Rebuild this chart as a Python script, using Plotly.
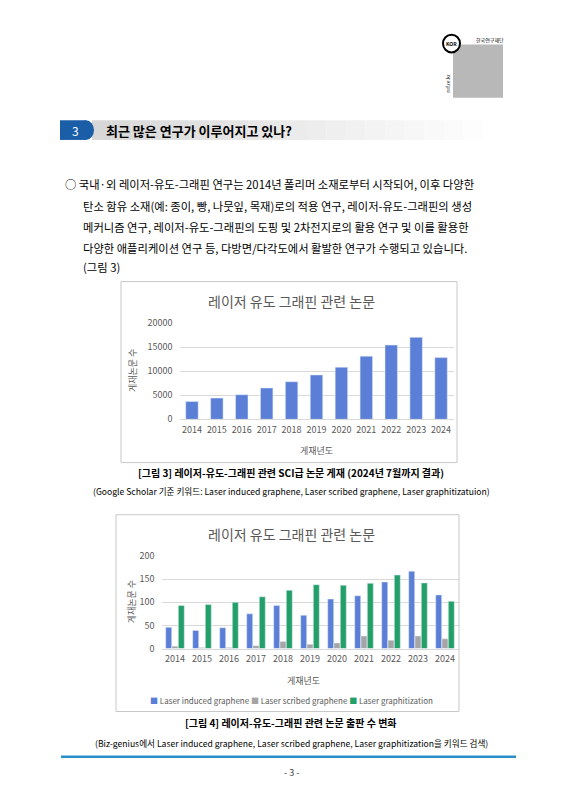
import plotly.graph_objects as go

W, H = 566, 800
years = [str(y) for y in range(2014, 2025)]
sci_papers = [3700, 4400, 5100, 6500, 7800, 9200, 10800, 13100, 15400, 17000, 12800]
lig = [46, 39, 45, 75, 93, 72, 107, 114, 144, 167, 116]
lsg = [5, 2, 2, 6, 15, 9, 12, 27, 18, 27, 21]
lgz = [93, 95, 100, 112, 126, 138, 137, 141, 159, 142, 102]
y1_ticks = [0, 5000, 10000, 15000, 20000]
y2_ticks = [0, 50, 100, 150, 200]
series_names = ["Laser induced graphene", "Laser scribed graphene", "Laser graphitization"]
series_colors = ["#5b7fd6", "#a5a5a5", "#23a06a"]

FONT = "Noto Sans CJK KR"
GRAY = "#595959"

def px(x): return x / W
def py(y): return 1 - y / H

fig = go.Figure()
fig.add_trace(go.Bar(x=years, y=sci_papers, marker_color=series_colors[0], width=0.5,
                     showlegend=False, xaxis="x", yaxis="y"))
for vals, nm, c in zip([lig, lsg, lgz], series_names, series_colors):
    fig.add_trace(go.Bar(x=years, y=vals, name=nm, marker_color=c, showlegend=False,
                         xaxis="x2", yaxis="y2"))

ax_common = dict(type="category", showgrid=False, showline=True, linecolor="#d9d9d9",
                 ticks="", ticklabelstandoff=2,
                 tickfont=dict(family=FONT, size=9, color=GRAY), fixedrange=True)
ay_common = dict(showgrid=True, gridcolor="#d9d9d9", zeroline=False, showline=False,
                 ticklabelstandoff=6,
                 tickfont=dict(family=FONT, size=9, color=GRAY), ticks="")
fig.update_layout(
    width=W, height=H, margin=dict(l=0, r=0, t=0, b=0),
    paper_bgcolor="white", plot_bgcolor="white", barmode="group",
    bargap=0.3, bargroupgap=0.05,
    font=dict(family=FONT),
    xaxis=dict(domain=[px(171.5), px(445.5)], anchor="y", **ax_common),
    yaxis=dict(domain=[py(411), py(313)], anchor="x", range=[0, 20000],
               tickvals=y1_ticks, ticktext=[str(v) for v in y1_ticks], **ay_common),
    xaxis2=dict(domain=[px(153.5), px(450.5)], anchor="y2", **ax_common),
    yaxis2=dict(domain=[py(644), py(550)], anchor="x2", range=[0, 200],
                tickvals=y2_ticks, ticktext=[str(v) for v in y2_ticks], **ay_common),
)

shapes = []
ann = []
def text(x, y, s, size=11, color="black", anchor="left", bold=False, angle=0):
    ann.append(dict(xref="paper", yref="paper", x=px(x), y=py(y), text=f"<b>{s}</b>" if bold else s,
                    showarrow=False, xanchor=anchor, yanchor="middle", textangle=angle,
                    font=dict(family=FONT, size=size, color=color)))

shapes.append(dict(type="rect", xref="paper", yref="paper", x0=px(113), x1=px(449), y0=py(455), y1=py(271),
                   line=dict(color="#c8c8c8", width=1)))
shapes.append(dict(type="rect", xref="paper", yref="paper", x0=px(108), x1=px(451), y0=py(708), y1=py(508),
                   line=dict(color="#c8c8c8", width=1)))
n = 20
for i in range(n):
    x0 = 84 + i * (475 - 84) / n
    x1 = 84 + (i + 1) * (475 - 84) / n
    g = int(215 + 40 * i / n)
    shapes.append(dict(type="rect", xref="paper", yref="paper", x0=px(x0), x1=px(x1), y0=py(127), y1=py(107),
                       line=dict(width=0), fillcolor=f"rgb({g},{g},{g})"))
shapes.append(dict(type="rect", xref="paper", yref="paper", x0=px(52), x1=px(78), y0=py(127), y1=py(107),
                   line=dict(width=0), fillcolor="#1a5ea8"))
shapes.append(dict(type="circle", xref="paper", yref="paper", x0=px(70), x1=px(86), y0=py(127), y1=py(107),
                   line=dict(width=0), fillcolor="#1a5ea8"))
shapes.append(dict(type="rect", xref="paper", yref="paper", x0=px(445), x1=px(495), y0=py(84), y1=py(30),
                   line=dict(width=0), fillcolor="#b8b8b8"))
shapes.append(dict(type="circle", xref="paper", yref="paper", x0=px(435), x1=px(452), y0=py(38), y1=py(20),
                   line=dict(color="black", width=2), fillcolor="white"))
shapes.append(dict(type="line", xref="paper", yref="paper", x0=px(53), x1=px(508), y0=py(754), y1=py(754),
                   line=dict(color="#2a8fc8", width=2.5)))

text(466, 25, "한국연구재단", size=5)
text(443.5, 29, "KOR", size=5, anchor="center", bold=True)
text(440, 70, "nrf.re.kr", size=5, anchor="center", angle=-90)
text(67, 117, "3", size=12, color="white", anchor="center")
text(96, 117, "최근 많은 연구가 이루어지고 있나?", size=13, bold=True)

body = ["○ 국내·외 레이저-유도-그래핀 연구는 2014년 폴리머 소재로부터 시작되어, 이후 다양한",
        "탄소 함유 소재(예: 종이, 빵, 나뭇잎, 목재)로의 적용 연구, 레이저-유도-그래핀의 생성",
        "메커니즘 연구, 레이저-유도-그래핀의 도핑 및 2차전지로의 활용 연구 및 이를 활용한",
        "다양한 애플리케이션 연구 등, 다방면/다각도에서 활발한 연구가 수행되고 있습니다.",
        "(그림 3)"]
ys = [172, 194, 216, 237, 256]
for i, (s, y) in enumerate(zip(body, ys)):
    text(55 if i == 0 else 73, y, s, size=11.3)

text(283, 291, "레이저 유도 그래핀 관련 논문", size=14, color=GRAY, anchor="center")
text(283, 528, "레이저 유도 그래핀 관련 논문", size=14, color=GRAY, anchor="center")
text(124, 362, "게재논문 수", size=9, color=GRAY, anchor="center", angle=-90)
text(123, 597, "게재논문 수", size=9, color=GRAY, anchor="center", angle=-90)
text(308, 443, "게재년도", size=9, color=GRAY, anchor="center")
text(295, 676, "게재년도", size=9, color=GRAY, anchor="center")

legend_txt = "".join(f"<span style='color:{c}'>■</span> {nm} " for nm, c in zip(series_names, series_colors))
text(283, 697, legend_txt.strip(), size=8, color=GRAY, anchor="center")

text(283, 465, "[그림 3] 레이저-유도-그래핀 관련 SCI급 논문 게재 (2024년 7월까지 결과)", size=10, anchor="center", bold=True)
text(283, 484, "(Google Scholar 기준 키워드: Laser induced graphene, Laser scribed graphene, Laser graphitizatuion)", size=8.6, anchor="center")
text(283, 719, "[그림 4] 레이저-유도-그래핀 관련 논문 출판 수 변화", size=10, anchor="center", bold=True)
text(283, 740, "(Biz-genius에서 Laser induced graphene, Laser scribed graphene, Laser graphitization을 키워드 검색)", size=8.6, anchor="center")
text(283, 770, "- 3 -", size=9, color="#444", anchor="center")

fig.update_layout(shapes=shapes, annotations=ann)
fig.write_html("out.html")
